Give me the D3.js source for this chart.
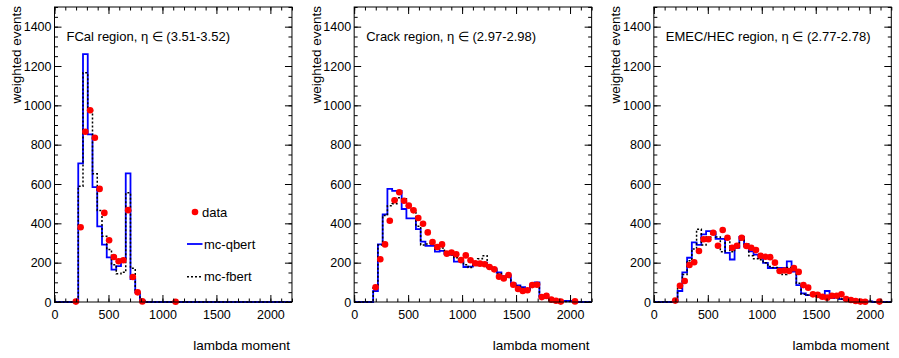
<!DOCTYPE html>
<html>
<head>
<meta charset="utf-8">
<script src="https://cdn.jsdelivr.net/npm/d3@7"></script>
<style>
  body { margin: 0; background: #fff; }
  svg { display: block; font-family: "Liberation Sans", Arial, sans-serif; }
</style>
</head>
<body>
<svg id="chart" width="899" height="358"></svg>
<script>
// 50 bins of width 44 over 0-2200; the arrays start at bin 4 (lambda = 176)
const binWidth = 44, nBins = 50, firstBin = 4;

const regionLabels = [
  "FCal region, η ∈ (3.51-3.52)",
  "Crack region, η ∈ (2.97-2.98)",
  "EMEC/HEC region, η ∈ (2.77-2.78)"
];

// null = no marker in that bin
const fcalData  = [2, 380, 866, 975, 835, 575, 453, 314, 229, 207, 212, 467, 127, 49, 3,
                   null, null, null, null, null, null, 1];
const fcalQbert = [0, 705, 1260, 852, 584, 385, 292, 227, 165, 182, 216, 654, 117, 49, 7];
const fcalFbert = [0, 589, 1166, 975, 652, 465, 334, 267, 190, 144, 151, 555, 171, 54, 5];

const crackData  = [75, 217, 293, 413, 517, 558, 515, 490, 466, 427, 398, 354, 305, 280, 293,
                    246, 252, 243, 213, 237, 212, 197, 195, 192, 178, 166, 129, 120, 137, 88,
                    66, 56, 60, 86, 88, 25, 31, 12, 6, 2, null, null, 3];
const crackQbert = [56, 293, 446, 575, 565, 565, 473, 425, 425, 371, 307, 285, 285, 256, 260,
                    245, 240, 205, 205, 178, 180, 200, 200, 200, 178, 170, 150, 130, 135, 95,
                    85, 75, 60, 88, 100, 25, 20, 12, 5, 2, 5, 5, 0];
const crackFbert = [80, 290, 440, 490, 500, 530, 525, 490, 460, 385, 290, 295, 300, 270, 275,
                    250, 240, 225, 210, 190, 175, 185, 220, 235, 175, 165, 145, 130, 125, 90,
                    80, 70, 65, 80, 95, 25, 25, 15, 8, 3, 3, 2, 0];

const emecData  = [7, 83, 107, 188, 202, 259, 319, 319, 352, 286, 366, 327, 276, 286, 327,
                   285, 276, 264, 235, 230, 228, 200, 158, 160, 158, 172, 153, 86, 73, 39,
                   36, 27, 22, 32, 32, 39, 15, 10, 5, 2, 1, null, null, 2];
const emecQbert = [3, 56, 151, 225, 303, 290, 344, 360, 355, 321, 321, 250, 216, 275, 331,
                   283, 258, 241, 224, 199, 173, 173, 173, 173, 207, 154, 86, 44, 35, 35,
                   30, 22, 56, 20, 35, 15, 10, 8, 3, 3, 3, 3];
const emecFbert = [5, 70, 140, 210, 270, 370, 290, 330, 345, 330, 255, 320, 255, 280, 315,
                   295, 235, 220, 215, 200, 180, 175, 160, 140, 175, 160, 95, 40, 35, 35,
                   30, 25, 30, 30, 25, 15, 12, 8, 5, 3, 2, 2];

const panels = [
  {label: regionLabels[0], data: fcalData,  qbert: fcalQbert,  fbert: fcalFbert},
  {label: regionLabels[1], data: crackData, qbert: crackQbert, fbert: crackFbert},
  {label: regionLabels[2], data: emecData,  qbert: emecQbert,  fbert: emecFbert}
];

const legendItems = ["data", "mc-qbert", "mc-fbert"];

const W = 899, H = 358, padW = W / 3;
const margin = {top: 7, right: 7.7, bottom: 56, left: 54.5};
const width = padW - margin.left - margin.right,
      height = H - margin.top - margin.bottom;

const x = d3.scaleLinear().domain([0, binWidth * nBins]).range([0, width]);
const y = d3.scaleLinear().domain([0, 1500]).range([height, 0]);

const svg = d3.select("#chart");

// full list of bin contents, padded with zeros
function fullHist(vals) {
  const out = new Array(nBins).fill(0);
  vals.forEach((v, i) => { out[firstBin + i] = v; });
  return d3.range(nBins + 1).map(i => ({edge: i * binWidth, v: out[Math.min(i, nBins - 1)]}));
}

const step = d3.line()
  .x(d => x(d.edge))
  .y(d => y(d.v))
  .curve(d3.curveStepAfter);

const fmt = d3.format("d");

panels.forEach((p, pi) => {
  const g = svg.append("g")
    .attr("transform", `translate(${pi * padW + margin.left},${margin.top})`);

  // histograms
  g.append("path")
    .datum(fullHist(p.qbert))
    .attr("fill", "none")
    .attr("stroke", "#0000ff")
    .attr("stroke-width", 1.8)
    .attr("d", step);

  g.append("path")
    .datum(fullHist(p.fbert))
    .attr("fill", "none")
    .attr("stroke", "#000")
    .attr("stroke-width", 1.5)
    .attr("stroke-dasharray", "2,2")
    .attr("d", step);

  // data points
  const pts = p.data.map((v, i) => ({c: (firstBin + i + 0.5) * binWidth, v: v}))
    .filter(d => d.v !== null);
  g.selectAll(".pt")
    .data(pts)
    .join("circle")
    .attr("class", "pt")
    .attr("cx", d => x(d.c))
    .attr("cy", d => y(d.v))
    .attr("r", 3.3)
    .attr("fill", "#ff0000");

  // axes, ROOT style: ticks inside on all four sides
  const xMajor = d3.range(0, 2001, 500), xMinor = d3.range(0, 2201, 100);
  const yMajor = d3.range(0, 1401, 200), yMinor = d3.range(0, 1501, 50);

  const axes = [
    [d3.axisBottom(x).tickValues(xMinor).tickFormat(""), `translate(0,${height})`, -3.5, 0],
    [d3.axisBottom(x).tickValues(xMajor).tickFormat(fmt), `translate(0,${height})`, -7, 8],
    [d3.axisTop(x).tickValues(xMinor).tickFormat(""), "translate(0,0)", -3.5, 0],
    [d3.axisTop(x).tickValues(xMajor).tickFormat(""), "translate(0,0)", -7, 0],
    [d3.axisLeft(y).tickValues(yMinor).tickFormat(""), "translate(0,0)", -3.5, 0],
    [d3.axisLeft(y).tickValues(yMajor).tickFormat(fmt), "translate(0,0)", -7, 3],
    [d3.axisRight(y).tickValues(yMinor).tickFormat(""), `translate(${width},0)`, -3.5, 0],
    [d3.axisRight(y).tickValues(yMajor).tickFormat(""), `translate(${width},0)`, -7, 0]
  ];
  axes.forEach(([ax, tr, len, pad]) => {
    const a = g.append("g")
      .attr("transform", tr)
      .call(ax.tickSizeInner(len).tickSizeOuter(0).tickPadding(pad));
    a.select(".domain").remove();
    a.selectAll("line").attr("stroke", "#000").attr("stroke-width", 1);
    a.selectAll("text")
      .style("font-family", '"Liberation Sans", Arial, sans-serif')
      .style("font-size", "12.5px")
      .attr("fill", "#000");
  });

  // frame
  g.append("rect")
    .attr("width", width)
    .attr("height", height)
    .attr("fill", "none")
    .attr("stroke", "#000")
    .attr("stroke-width", 1);

  // titles
  g.append("text")
    .attr("transform", `translate(${21 - margin.left},-1) rotate(-90)`)
    .attr("text-anchor", "end")
    .style("font-size", "13.5px")
    .text("weighted events");

  g.append("text")
    .attr("x", width - 2)
    .attr("y", 350 - margin.top)
    .attr("text-anchor", "end")
    .style("font-size", "13.5px")
    .text("lambda moment");

  g.append("text")
    .attr("x", 12)
    .attr("y", 41 - margin.top)
    .style("font-size", "13px")
    .text(p.label);

  // legend only in the first pad
  if (pi === 0) {
    const lg = g.append("g").attr("transform", `translate(${-margin.left},${-margin.top})`);
    lg.append("circle").attr("cx", 195).attr("cy", 212).attr("r", 3.3).attr("fill", "#ff0000");
    lg.append("line").attr("x1", 187).attr("x2", 202.5).attr("y1", 244).attr("y2", 244)
      .attr("stroke", "#0000ff").attr("stroke-width", 1.8);
    lg.append("line").attr("x1", 187).attr("x2", 202.5).attr("y1", 276.7).attr("y2", 276.7)
      .attr("stroke", "#000").attr("stroke-width", 1.5).attr("stroke-dasharray", "2,2");
    lg.selectAll(".lt")
      .data(legendItems)
      .join("text")
      .attr("class", "lt")
      .attr("x", (d, i) => i === 0 ? 202 : 204)
      .attr("y", (d, i) => [216.5, 248.5, 281][i])
      .style("font-size", "13px")
      .text(d => d);
  }
});
</script>
</body>
</html>
